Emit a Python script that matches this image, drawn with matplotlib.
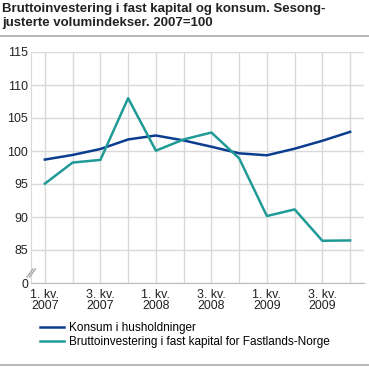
import numpy as np
import matplotlib
matplotlib.use("Agg")
import matplotlib.pyplot as plt
from matplotlib.lines import Line2D

# -----------------------------------------------------------------------------
# Data
# -----------------------------------------------------------------------------
quarters = ["1. kv.\n2007", "2. kv.\n2007", "3. kv.\n2007", "4. kv.\n2007",
            "1. kv.\n2008", "2. kv.\n2008", "3. kv.\n2008", "4. kv.\n2008",
            "1. kv.\n2009", "2. kv.\n2009", "3. kv.\n2009", "4. kv.\n2009"]
konsum = [98.7, 99.4, 100.3, 101.75, 102.35, 101.6,
          100.65, 99.65, 99.35, 100.35, 101.55, 102.9]
brutto = [95.05, 98.25, 98.65, 108.0, 100.05, 101.75,
          102.8, 98.9, 90.15, 91.15, 86.4, 86.45]
ytick_vals = [0, 85, 90, 95, 100, 105, 110, 115]

BLUE = "#0b3d8f"
TEAL = "#1f9a96"
GRID = "#d9d9d9"

plt.rcParams['font.family'] = ['Liberation Sans', 'DejaVu Sans']

W = H = 369
fig = plt.figure(figsize=(W / 100, H / 100), dpi=100)

# axes placed in pixel terms
left, right, top, bottom = 31, 364, 52, 283
ax = fig.add_axes([left / W, 1 - bottom / H, (right - left) / W, (bottom - top) / H])

x = np.arange(len(quarters))


# broken axis: value 0 sits one step below 85
def yscale(v):
    return 80 if v == 0 else v


ax.plot(x, konsum, color=BLUE, lw=1.8, label="Konsum i husholdninger")
ax.plot(x, brutto, color=TEAL, lw=1.8,
        label="Bruttoinvestering i fast kapital for Fastlands-Norge")

ax.set_xlim(-0.5, len(quarters) - 0.5)
ax.set_ylim(80, 115)
ax.set_yticks([yscale(v) for v in ytick_vals])
ax.set_yticklabels([str(v) for v in ytick_vals])
ax.set_xticks(x[::2])
ax.set_xticklabels(quarters[::2], ha="center", linespacing=0.95)
ax.set_xticks(x, minor=True)

ax.grid(True, axis="y", color=GRID, lw=1)
ax.grid(True, axis="x", which="both", color=GRID, lw=1)
ax.set_axisbelow(True)
ax.tick_params(axis="both", which="both", length=0, labelsize=8.9,
               colors="#222222", pad=2)
ax.tick_params(axis="x", pad=4)
for s in ["top", "right"]:
    ax.spines[s].set_visible(False)
ax.spines["left"].set_color(GRID)
ax.spines["bottom"].set_color("#bbbbbb")

# axis break marks
for dx in (0, 2.5):
    fig.add_artist(Line2D([(27 + dx) / W, (33 + dx) / W],
                          [1 - 277 / H, 1 - 269 / H],
                          color="#aaaaaa", lw=1))

# title
fig.text(2 / W, 1 - 3 / H,
         "Bruttoinvestering i fast kapital og konsum. Sesong-\njusterte volumindekser. 2007=100",
         ha="left", va="top", fontsize=9.5, fontweight="bold",
         color="#222222", linespacing=1.2)

# separator lines
fig.add_artist(Line2D([0, 1], [1 - 36 / H, 1 - 36 / H], color="#aaaaaa", lw=1.2))
fig.add_artist(Line2D([0, 1], [1 - 365 / H, 1 - 365 / H], color="#aaaaaa", lw=1.2))

fig.legend(loc="upper left", bbox_to_anchor=(40 / W, 1 - 322 / H),
           frameon=False, fontsize=8.5, handlelength=2.0, handletextpad=0.45,
           labelspacing=0.2, borderaxespad=0, borderpad=0)

fig.savefig("out.png", dpi=100)
